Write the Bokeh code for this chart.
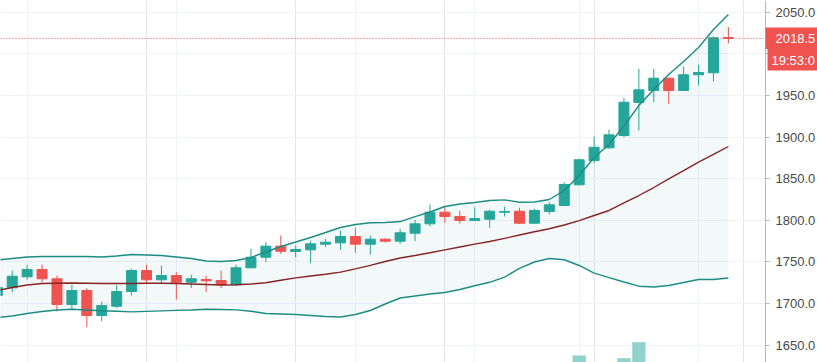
from bokeh.plotting import figure
from bokeh.models import Range1d, FixedTicker, Grid, Span, Label, BoxAnnotation
from bokeh.embed import file_html
from bokeh.resources import INLINE

# ---- data ----
idx = list(range(50))
opens = [1709.5, 1718.8, 1732.0, 1740.8, 1729.6, 1698.7, 1715.5, 1685.5, 1696.6, 1714.3,
         1739.5, 1728.4, 1733.5, 1725.5, 1728.7, 1727.5, 1722.4, 1742.8, 1755.5, 1768.8,
         1762.4, 1764.4, 1771.2, 1772.8, 1780.4, 1771.2, 1777.2, 1774.8, 1784.4, 1795.7,
         1809.6, 1804.4, 1799.6, 1801.2, 1809.6, 1810.8, 1796.4, 1810.5, 1817.7, 1842.6,
         1871.8, 1887.0, 1901.8, 1941.5, 1955.9, 1970.7, 1955.9, 1974.8, 1977.2, 2019.5]
highs = [1722.0, 1739.5, 1746.4, 1746.7, 1733.5, 1722.4, 1718.3, 1702.3, 1722.4, 1741.9,
         1746.4, 1745.6, 1737.5, 1734.4, 1732.9, 1739.6, 1746.7, 1765.6, 1773.6, 1781.6,
         1769.6, 1775.6, 1777.6, 1787.6, 1790.9, 1781.6, 1778.4, 1789.7, 1800.5, 1818.9,
         1815.6, 1811.6, 1815.6, 1812.5, 1816.5, 1815.1, 1813.7, 1821.6, 1845.7, 1873.8,
         1900.6, 1909.0, 1947.1, 1982.0, 1982.0, 1971.0, 1984.7, 1986.8, 2020.8, 2032.0]
lows = [1706.0, 1713.5, 1728.4, 1725.5, 1690.3, 1693.5, 1671.4, 1678.6, 1694.2, 1709.5,
        1723.6, 1723.6, 1704.7, 1718.5, 1713.7, 1718.5, 1721.0, 1742.0, 1749.5, 1759.6,
        1755.5, 1748.3, 1767.6, 1764.4, 1760.8, 1758.8, 1773.2, 1771.6, 1774.8, 1792.6,
        1796.6, 1795.7, 1799.3, 1790.9, 1804.4, 1795.7, 1795.7, 1806.9, 1817.0, 1842.0,
        1868.5, 1885.8, 1899.8, 1907.8, 1941.8, 1939.9, 1955.5, 1961.9, 1966.7, 2012.7]
closes = [1719.1, 1732.7, 1740.8, 1729.6, 1698.7, 1715.5, 1685.5, 1697.5, 1714.3, 1739.5,
          1728.4, 1733.5, 1725.5, 1729.6, 1727.2, 1722.4, 1742.8, 1755.5, 1768.8, 1762.7,
          1764.8, 1771.6, 1773.6, 1780.4, 1771.2, 1777.2, 1774.8, 1784.9, 1795.7, 1809.6,
          1804.4, 1799.6, 1802.0, 1810.8, 1810.5, 1796.4, 1811.7, 1818.5, 1842.9, 1872.6,
          1887.7, 1902.6, 1941.8, 1956.7, 1970.7, 1955.9, 1974.8, 1977.5, 2019.2, 2018.5]
bb_upper = [1752.2, 1754.0, 1755.8, 1756.4, 1756.4, 1756.4, 1756.4, 1755.8, 1757.0, 1758.8,
            1758.2, 1757.6, 1755.8, 1754.0, 1751.0, 1750.4, 1751.6, 1755.2, 1761.8, 1768.4,
            1773.8, 1779.2, 1785.2, 1791.2, 1794.8, 1796.9, 1797.2, 1798.4, 1804.4, 1809.9,
            1816.5, 1819.5, 1821.3, 1823.7, 1824.5, 1821.6, 1821.9, 1824.9, 1835.7, 1853.7,
            1875.4, 1891.0, 1913.2, 1937.9, 1957.1, 1975.1, 1990.7, 2007.6, 2029.2, 2047.2]
bb_basis = [1715.5, 1719.1, 1722.1, 1723.9, 1724.3, 1724.5, 1724.3, 1723.9, 1723.9, 1723.9,
            1724.2, 1724.3, 1723.9, 1723.3, 1722.7, 1722.1, 1722.4, 1723.3, 1724.9, 1727.8,
            1730.7, 1732.9, 1735.0, 1737.6, 1741.6, 1745.8, 1750.4, 1754.6, 1757.6, 1760.9,
            1764.4, 1767.8, 1771.2, 1774.4, 1778.2, 1782.2, 1786.1, 1789.7, 1794.2, 1799.6,
            1805.7, 1811.7, 1820.7, 1829.7, 1839.3, 1849.8, 1859.7, 1869.7, 1879.0, 1888.6]
bb_lower = [1683.1, 1684.9, 1687.9, 1690.3, 1692.1, 1693.0, 1692.1, 1691.2, 1690.6, 1689.9,
            1690.5, 1691.1, 1691.7, 1692.1, 1693.0, 1692.7, 1692.2, 1690.6, 1687.9, 1687.3,
            1686.7, 1685.5, 1684.3, 1683.7, 1686.7, 1691.5, 1699.3, 1706.5, 1708.9, 1711.3,
            1713.1, 1716.7, 1721.3, 1725.4, 1731.6, 1742.0, 1749.8, 1754.0, 1752.5, 1745.6,
            1736.5, 1731.1, 1725.7, 1720.7, 1719.7, 1721.5, 1725.1, 1728.7, 1728.7, 1730.5]
volume = [55, 60, 52, 58, 68, 62, 70, 64, 56, 60, 52, 48, 55, 45, 42, 47, 58, 60, 55, 52,
          44, 50, 40, 52, 55, 46, 35, 50, 58, 62, 50, 48, 44, 52, 40, 56, 54, 50, 68, 81.3,
          72, 70, 77.9, 97.9, 70, 66, 60, 52, 71, 20]
y_ticks = [1650, 1700, 1750, 1800, 1850, 1900, 1950, 2000, 2050]
y_tick_labels = ["1650.0", "1700.0", "1750.0", "1800.0", "1850.0", "1900.0", "1950.0", "2000.0", "2050.0"]
x_grid_bars = [2, 12, 24, 32, 39, 47]
price_axis_at = 51.488          # bar-index position of the price scale
last_price = 2018.5
last_price_text = "2018.5"
countdown_text = "19:53:0"

UP = "#26a69a"
DOWN = "#ef5350"
FONT = "Liberation Sans"

colors = [UP if c >= o else DOWN for o, c in zip(opens, closes)]
body_top = [max(o, c) for o, c in zip(opens, closes)]
body_bot = [min(o, c) for o, c in zip(opens, closes)]

p = figure(width=817, height=362,
           x_range=Range1d(0.2145, 54.973), y_range=Range1d(1629.0, 2064.06),
           output_backend="svg", toolbar_location=None,
           x_axis_location=None, y_axis_location="right",
           min_border_left=0, min_border_right=0, min_border_top=0, min_border_bottom=0,
           background_fill_color="white", border_fill_color="white")
p.outline_line_color = None

# price axis (placed at a fixed x, drawn inside the canvas)
ax = p.yaxis[0]
ax.fixed_location = price_axis_at
ax.ticker = FixedTicker(ticks=y_ticks)
ax.major_label_overrides = {t: l for t, l in zip(y_ticks, y_tick_labels)}
ax.major_tick_out = 4
ax.major_tick_in = 0
ax.minor_tick_line_color = None
ax.axis_line_color = "#b2b5be"
ax.major_tick_line_color = "#b2b5be"
ax.major_label_text_font = FONT
ax.major_label_text_font_size = "13px"
ax.major_label_text_color = "#4a4a4a"
ax.major_label_standoff = 6

p.ygrid.grid_line_color = "#f0f3fa"
p.add_layout(Grid(dimension=0, ticker=FixedTicker(ticks=x_grid_bars), grid_line_color="#f0f3fa"))

# volume (own scale, mostly below the visible area)
p.extra_y_ranges = {"vol": Range1d(72.5, 525)}
vol_colors = ["#92d2cc" if c == UP else "#f7a9a7" for c in colors]
p.vbar(x=idx, width=0.89, top=volume, bottom=0, y_range_name="vol",
       fill_color=vol_colors, line_color=None)

# bollinger fill
p.varea(x=idx, y1=bb_lower, y2=bb_upper, fill_color="#138484", fill_alpha=0.05)

# candles
p.segment(x0=idx, y0=lows, x1=idx, y1=highs, line_color=colors, line_width=1)
p.vbar(x=idx, width=0.67, top=body_top, bottom=body_bot,
       fill_color=colors, line_color=colors, line_width=1)

# bollinger lines
p.line(idx, bb_upper, line_color="#1d8c85", line_width=1.4)
p.line(idx, bb_lower, line_color="#1d8c85", line_width=1.4)
p.line(idx, bb_basis, line_color="#872323", line_width=1.4)

# last price line
p.add_layout(Span(location=last_price, dimension="width", line_color=DOWN,
                  line_width=1, line_dash="1 2", level="glyph"))

# price-scale background (hides grid lines right of the scale)
p.add_layout(BoxAnnotation(left=price_axis_at, fill_color="white", fill_alpha=1.0,
                           line_color=None, level="glyph"))

# last-price and countdown tags on the price scale
p.add_layout(BoxAnnotation(left=765, right=830, top=335, bottom=313.6,
                           left_units="screen", right_units="screen",
                           top_units="screen", bottom_units="screen",
                           fill_color=DOWN, fill_alpha=1.0, line_color=None))
p.add_layout(BoxAnnotation(left=767, right=830, top=313.4, bottom=292,
                           left_units="screen", right_units="screen",
                           top_units="screen", bottom_units="screen",
                           fill_color=DOWN, fill_alpha=1.0, line_color=None))
p.add_layout(Label(x=775, y=last_price, x_units="screen", y_units="data",
                   text=last_price_text, text_font=FONT, text_font_size="13px",
                   text_color="white", text_align="left", text_baseline="middle"))
p.add_layout(Label(x=771, y=302.5, x_units="screen", y_units="screen",
                   text=countdown_text, text_font=FONT, text_font_size="13px",
                   text_color="white", text_align="left", text_baseline="middle"))

open("out.html", "w").write(file_html(p, INLINE))
